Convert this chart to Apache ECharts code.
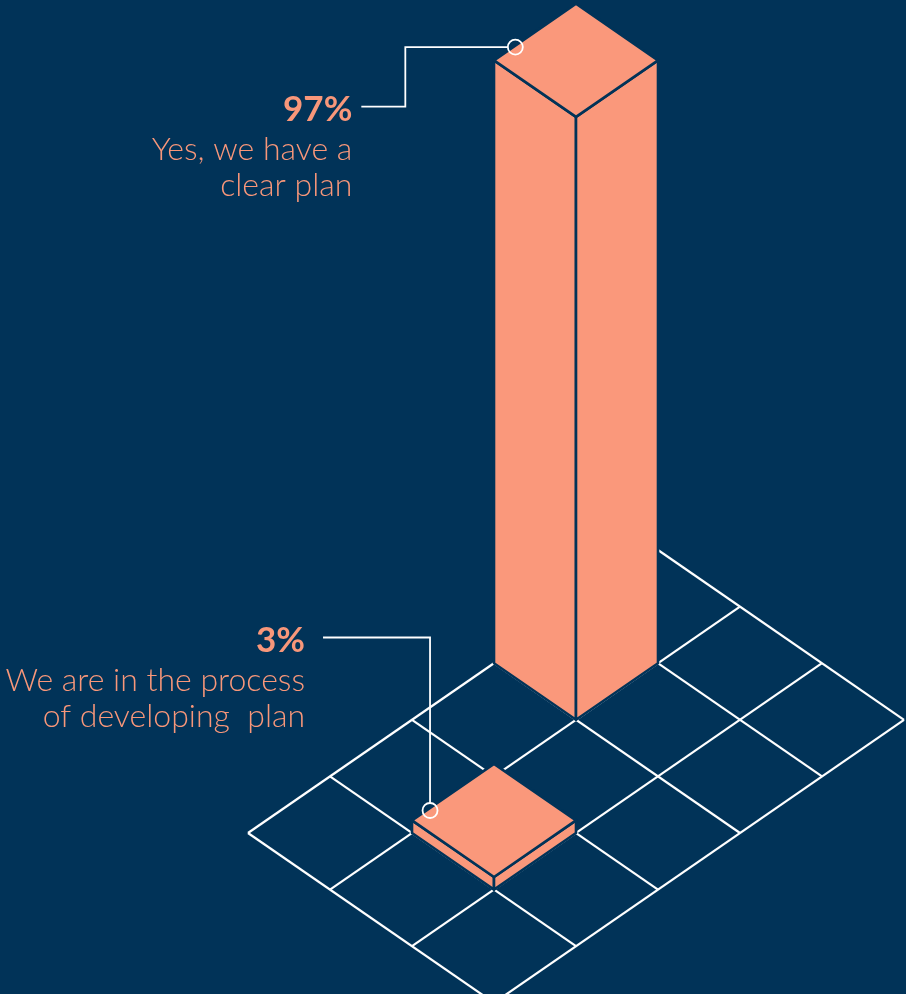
<!DOCTYPE html>
<html>
<head>
<meta charset="utf-8">
<script src="https://cdn.jsdelivr.net/npm/echarts@6/dist/echarts.min.js"></script>
<style>
  html, body { margin: 0; padding: 0; background: #013358; }
  #chart { width: 906px; height: 994px; }
</style>
</head>
<body>
<div id="chart"></div>
<script>
// Survey answers
const categories = ['Yes, we have a\nclear plan', 'We are in the process\nof developing  plan'];
const shareLabels = ['97%', '3%'];
const shares = [97, 3];
// Floor cell (row, column) on which each answer's column stands
const cellRows = [1, 3];
const cellCols = [0, 1];
// Floor size in cells
const floorRows = 5;
const floorCols = 3;

// ---- layout & style ----
const W = 906, H = 994;
const ORIGIN = [658, 550];      // pixel position of the floor's back corner
const CELL_W = 82;              // horizontal step of one floor cell
const CELL_H = 56.6;            // vertical step of one floor cell
const PCT_PX = 6.28;            // pixels per percentage point of column height
const BASE = 1;                 // value-axis level of the floor
const DEPTH = CELL_H / PCT_PX;  // one floor step expressed in value-axis units

const NAVY = '#013358';
const SALMON = '#FA987B';
const TEXT = '#F8977A';
const WHITE = '#FFFFFF';

// leader line of each callout, relative to its ring on the column top
const CALLOUTS = [
  { along: 0.26, lift: -1.5, path: [[-110, 0], [-110, 59.5], [-154, 59.5]], gap: 9 },
  { along: 0.22, lift: -2.5, path: [[0, -173], [-107, -173]], gap: 18 }
];
const RING_R = 7.5;

// isometric floor (row, col) + height value -> axis coordinates
function iso(r, c, v) {
  return [c - r, (v - BASE) - DEPTH * (r + c)];
}

const floorLines = [];
for (let r = 0; r <= floorRows; r++) floorLines.push([r, 0, r, floorCols]);
for (let c = 0; c <= floorCols; c++) floorLines.push([0, c, floorRows, c]);

const columnData = shares.map((v, k) => [cellRows[k], cellCols[k], v, k]);

const chart = echarts.init(document.getElementById('chart'), null, { renderer: 'canvas' });

chart.setOption({
  backgroundColor: NAVY,
  animation: false,
  grid: { left: 0, right: 0, top: 0, bottom: 0 },
  xAxis: { type: 'value', show: false, min: -ORIGIN[0] / CELL_W, max: (W - ORIGIN[0]) / CELL_W },
  yAxis: { type: 'value', show: false, min: -(H - ORIGIN[1]) / PCT_PX, max: ORIGIN[1] / PCT_PX },
  series: [
    {
      name: 'floor',
      type: 'custom',
      z: 1,
      silent: true,
      data: floorLines,
      renderItem(params, api) {
        const a = api.coord(iso(api.value(0), api.value(1), BASE));
        const b = api.coord(iso(api.value(2), api.value(3), BASE));
        return {
          type: 'line',
          shape: { x1: a[0], y1: a[1], x2: b[0], y2: b[1] },
          style: { stroke: WHITE, lineWidth: 2.2 }
        };
      }
    },
    {
      name: 'columns',
      type: 'custom',
      z: 2,
      silent: true,
      data: columnData,
      renderItem(params, api) {
        const r = api.value(0), c = api.value(1), v = api.value(2);
        const P = (rr, cc, vv) => api.coord(iso(rr, cc, vv));
        const gLeft = P(r + 1, c, BASE), gRight = P(r, c + 1, BASE), gFront = P(r + 1, c + 1, BASE);
        const tBack = P(r, c, v), tLeft = P(r + 1, c, v), tRight = P(r, c + 1, v), tFront = P(r + 1, c + 1, v);
        const faceStyle = { fill: SALMON, stroke: NAVY, lineWidth: 2.6, lineJoin: 'round' };
        return {
          type: 'group',
          children: [
            { type: 'polygon', shape: { points: [tLeft, tFront, gFront, gLeft] }, style: faceStyle },
            { type: 'polygon', shape: { points: [tFront, tRight, gRight, gFront] }, style: faceStyle },
            { type: 'polygon', shape: { points: [tBack, tRight, tFront, tLeft] }, style: faceStyle }
          ]
        };
      }
    },
    {
      name: 'callouts',
      type: 'custom',
      z: 3,
      silent: true,
      data: columnData,
      renderItem(params, api) {
        const r = api.value(0), c = api.value(1), v = api.value(2), k = api.value(3);
        const lay = CALLOUTS[k];
        const edge = api.coord(iso(r + 1 - lay.along, c, v));
        const anchor = [edge[0], edge[1] - lay.lift];
        const pts = lay.path.map(p => [anchor[0] + p[0], anchor[1] + p[1]]);
        const dx = pts[0][0] - anchor[0], dy = pts[0][1] - anchor[1];
        const len = Math.hypot(dx, dy);
        const start = [anchor[0] + dx / len * RING_R, anchor[1] + dy / len * RING_R];
        const end = pts[pts.length - 1];
        const tx = end[0] - lay.gap;
        const lines = categories[k].split('\n');
        const children = [
          { type: 'polyline', shape: { points: [start].concat(pts) },
            style: { stroke: WHITE, lineWidth: 1.8, fill: null } },
          { type: 'circle', shape: { cx: anchor[0], cy: anchor[1], r: RING_R },
            style: { stroke: WHITE, lineWidth: 1.8, fill: null } },
          { type: 'text', style: { text: shareLabels[k], x: tx, y: end[1] + 3.5,
            align: 'right', verticalAlign: 'middle', fill: TEXT,
            font: '700 35px Lato' } }
        ];
        lines.forEach((t, n) => {
          children.push({ type: 'text', style: { text: t, x: tx, y: end[1] + 43 + n * 36,
            align: 'right', verticalAlign: 'middle', fill: TEXT,
            font: '300 32px Lato' } });
        });
        return { type: 'group', children };
      }
    }
  ]
});
</script>
</body>
</html>
